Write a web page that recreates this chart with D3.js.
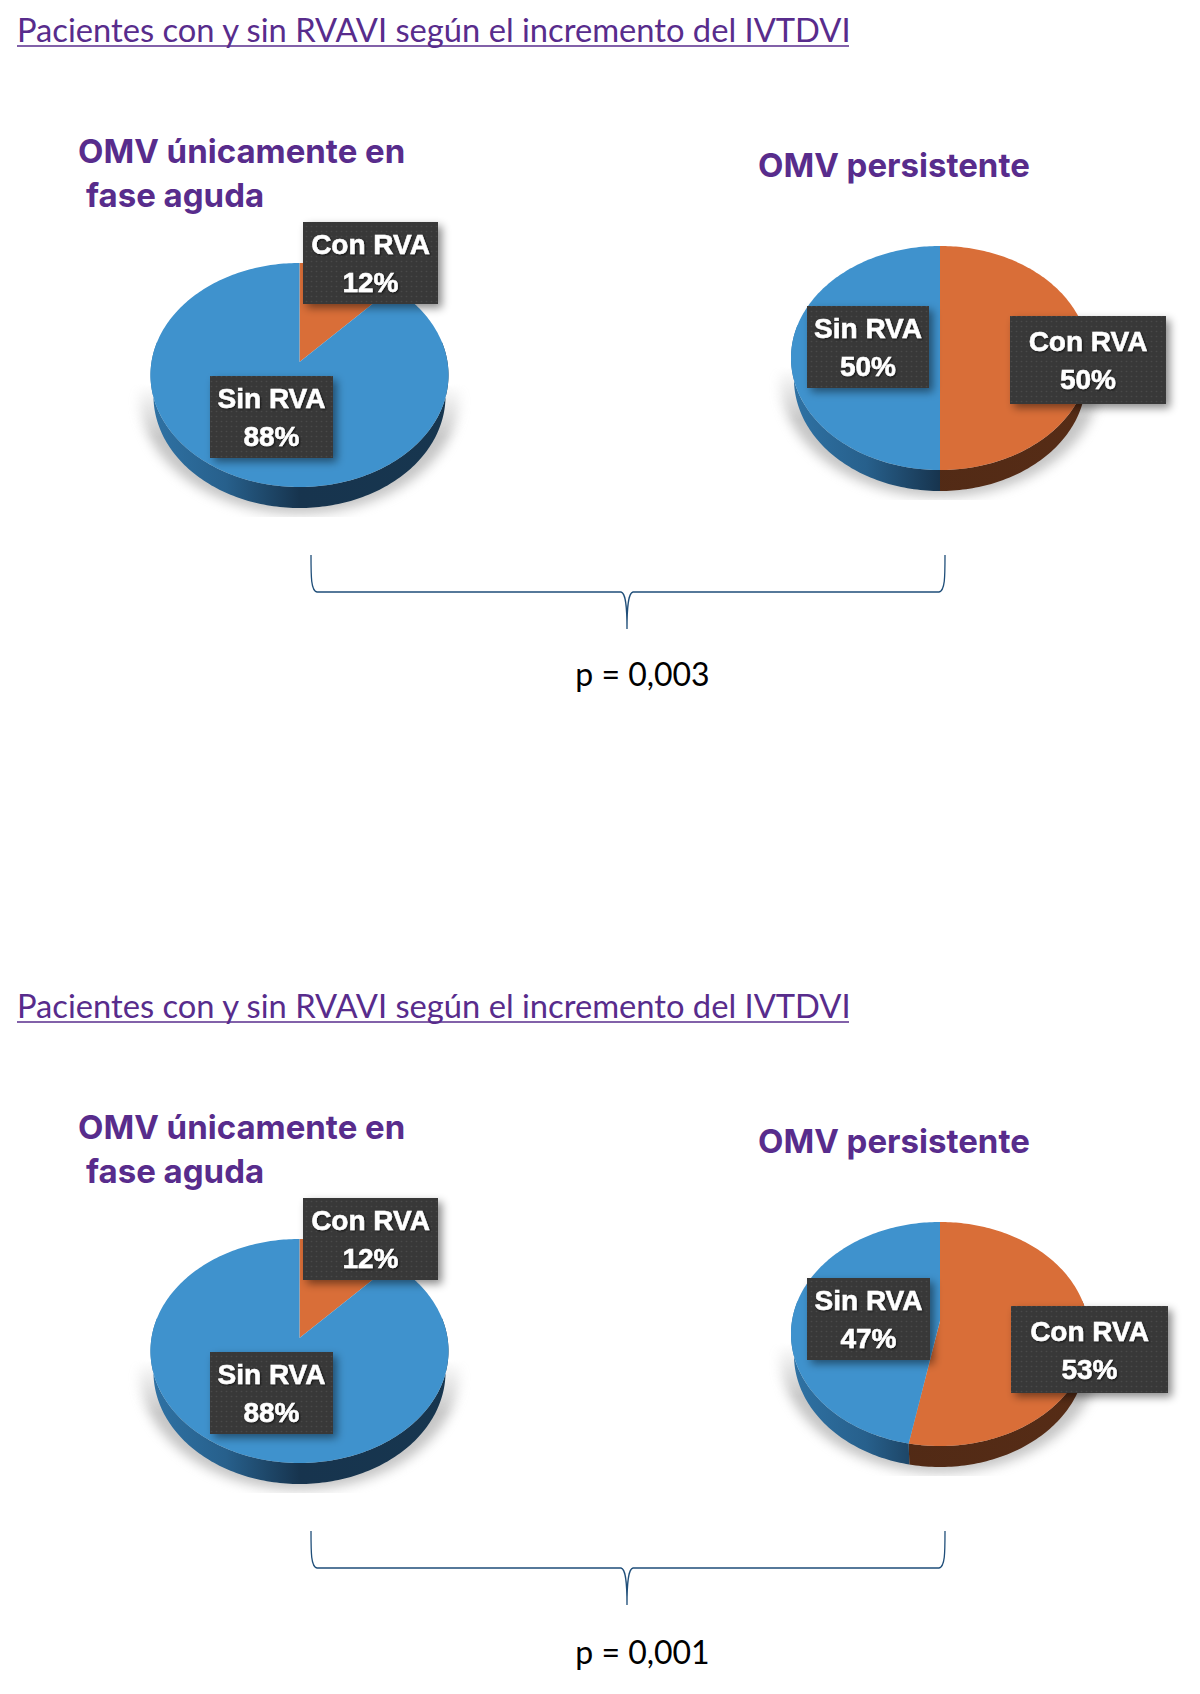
<!DOCTYPE html>
<html lang="es">
<head>
<meta charset="utf-8">
<script src="https://cdnjs.cloudflare.com/ajax/libs/d3/7.8.5/d3.min.js"></script>
<style>
  html, body { margin: 0; padding: 0; background: #fff; }
  svg { display: block; }
</style>
</head>
<body>
<svg id="chart" width="1200" height="1694"></svg>
<script>
// Values shown in the four pies (left and right pie of each block)
const sliceNames = ["Con RVA", "Sin RVA"];
const conRva = [12, 50, 12, 53];
const sinRva = [88, 50, 88, 47];
const chartTitle = "Pacientes con y sin RVAVI según el incremento del IVTDVI";
const leftHeading = ["OMV únicamente en", "fase aguda"];
const rightHeading = ["OMV persistente"];
const pValues = ["p = 0,003", "p = 0,001"];

// Layout
const blockOffset = 976;
const pieCentres = [[299.5, 362], [940, 345], [299.5, 362 + blockOffset], [940, 345 + blockOffset]];
const labelBoxes = [
  { con: [303, 222, 135, 82], sin: [210, 376, 123, 82] },
  { con: [1010, 316, 156, 88], sin: [807, 306, 122, 82] },
  { con: [303, 222 + blockOffset, 135, 82], sin: [210, 376 + blockOffset, 123, 82] },
  { con: [1011, 1306, 157, 87], sin: [807, 1278, 123, 82] }
];
const rx = 148, ryScale = 110.5, tilt = 0.116, depth = 21, lowerRimScale = 0.98;
const colors = { "Con RVA": "#d96e38", "Sin RVA": "#3f92cd" };
const purple = "#582c8c";

const svg = d3.select("#chart");
const defs = svg.append("defs");

// Soft blur for the shadow beneath each pie
defs.append("filter").attr("id", "pieShadow")
    .attr("x", "-20%").attr("y", "-20%").attr("width", "140%").attr("height", "140%")
  .append("feGaussianBlur").attr("stdDeviation", 6);

// Drop shadow of the label boxes
defs.append("filter").attr("id", "boxShadow")
    .attr("x", "-15%").attr("y", "-15%").attr("width", "135%").attr("height", "140%")
  .append("feDropShadow").attr("dx", 4).attr("dy", 4).attr("stdDeviation", 4)
    .attr("flood-color", "#000").attr("flood-opacity", 0.45);

// Dark halo that lifts the label text off the box
defs.append("filter").attr("id", "textShadow")
    .attr("x", "-10%").attr("y", "-20%").attr("width", "120%").attr("height", "140%")
  .append("feDropShadow").attr("dx", 1).attr("dy", 1).attr("stdDeviation", 1)
    .attr("flood-color", "#000").attr("flood-opacity", 0.7);

// Fine dot texture of the label boxes
const dots = defs.append("pattern").attr("id", "boxDots")
    .attr("width", 5).attr("height", 5).attr("patternUnits", "userSpaceOnUse");
dots.append("rect").attr("width", 5).attr("height", 5).attr("fill", "#383838");
dots.append("circle").attr("cx", 1.5).attr("cy", 1.5).attr("r", 0.8).attr("fill", "#4a4a4a");

// Vertical fade so the ground shadow only appears toward the lower half
const fade = defs.append("linearGradient").attr("id", "shadowFade")
    .attr("x1", 0).attr("x2", 0).attr("y1", 0).attr("y2", 1);
fade.append("stop").attr("offset", 0).attr("stop-color", "#000");
fade.append("stop").attr("offset", 0.4).attr("stop-color", "#fff");
fade.append("stop").attr("offset", 1).attr("stop-color", "#fff");

// Side wall shading runs across the width of each pie
function sideGradient(id, cx, stops) {
  const g = defs.append("linearGradient").attr("id", id)
      .attr("gradientUnits", "userSpaceOnUse")
      .attr("x1", cx - rx).attr("x2", cx + rx).attr("y1", 0).attr("y2", 0);
  stops.forEach(([o, c]) => g.append("stop").attr("offset", o).attr("stop-color", c));
}

const pieLayout = d3.pie().sort(null).value(d => d.value).startAngle(0).endAngle(2 * Math.PI);
const line = d3.line();

// Tilted disc: a unit circle seen in perspective, so the far half looks shorter
function project(c, angle, r) {
  const x = r * Math.sin(angle), y = r * Math.cos(angle), w = 1 + tilt * y;
  return [c[0] + rx * x / w, c[1] - ryScale * y / w];
}
function arcPoints(c, a0, a1) {
  const n = Math.max(2, Math.ceil((a1 - a0) / 0.02));
  return d3.range(n + 1).map(i => project(c, a0 + (a1 - a0) * i / n, 1));
}

function drawPie(i) {
  const c = pieCentres[i];
  const g = svg.append("g");
  const arcs = pieLayout(sliceNames.map((name, j) => ({ name, value: [conRva, sinRva][j][i] })));

  // Ground shadow, fading in from above and cut off flat at the bottom
  const maskId = "shadowMask" + i;
  const sx = c[0] - 175, sy = c[1] + 22, sw = 350, sh = 133;
  defs.append("mask").attr("id", maskId).attr("maskUnits", "userSpaceOnUse")
      .attr("x", sx).attr("y", sy).attr("width", sw).attr("height", sh)
    .append("rect").attr("x", sx).attr("y", sy).attr("width", sw).attr("height", sh)
      .attr("fill", "url(#shadowFade)");
  g.append("g").attr("mask", `url(#${maskId})`)
    .append("ellipse")
      .attr("cx", c[0]).attr("cy", c[1] + 34)
      .attr("rx", rx + 12).attr("ry", 118)
      .attr("fill", "#8c8c8c").attr("opacity", 0.5)
      .attr("filter", "url(#pieShadow)");

  sideGradient("sideBlue" + i, c[0], [[0, "#2f72a4"], [0.25, "#27608c"], [0.5, "#17344e"], [1, "#17364f"]]);
  sideGradient("sideOrange" + i, c[0], [[0, "#4f2915"], [1, "#562c16"]]);

  // Side wall: the front of the rim, with a slightly narrower lower edge
  const front0 = Math.PI * 0.44, front1 = Math.PI * 1.56;
  arcs.forEach(d => {
    const a0 = Math.max(d.startAngle, front0), a1 = Math.min(d.endAngle, front1);
    if (a1 <= a0) return;
    const rim = arcPoints(c, a0, a1);
    const lower = rim.map(p => [c[0] + (p[0] - c[0]) * lowerRimScale, p[1] + depth]).reverse();
    g.append("path")
      .attr("d", line(rim.concat(lower)) + "Z")
      .attr("fill", `url(#${d.data.name === "Con RVA" ? "sideOrange" : "sideBlue"}${i})`);
  });

  // Top face
  arcs.forEach(d => {
    const pts = [c].concat(arcPoints(c, d.startAngle, d.endAngle));
    g.append("path").attr("d", line(pts) + "Z").attr("fill", colors[d.data.name]);
  });

  // Value labels
  arcs.forEach(d => {
    const box = labelBoxes[i][d.data.name === "Con RVA" ? "con" : "sin"];
    const lg = g.append("g");
    lg.append("rect")
      .attr("x", box[0]).attr("y", box[1]).attr("width", box[2]).attr("height", box[3])
      .attr("fill", "url(#boxDots)").attr("filter", "url(#boxShadow)");
    const t = lg.append("text")
      .attr("text-anchor", "middle").attr("fill", "#fff")
      .attr("stroke", "#fff").attr("stroke-width", 0.5)
      .attr("font-family", "'Liberation Sans', sans-serif").attr("font-weight", 700)
      .attr("font-size", 28).attr("filter", "url(#textShadow)");
    const mx = box[0] + box[2] / 2, my = box[1] + box[3] / 2;
    t.append("tspan").attr("x", mx).attr("y", my - 9).text(d.data.name);
    t.append("tspan").attr("x", mx).attr("y", my + 29).text(d.data.value + "%");
  });
}

function drawBlock(dy, pText, pNudge) {
  const g = svg.append("g").attr("transform", `translate(0,${dy})`);
  g.append("text").attr("x", 17).attr("y", 41.5)
    .attr("font-family", "Lato, sans-serif").attr("font-size", 32.7)
    .attr("fill", purple)
    .text(chartTitle);
  g.append("line").attr("x1", 17).attr("x2", 849).attr("y1", 46).attr("y2", 46)
    .attr("stroke", purple).attr("stroke-width", 1.6);

  const heading = (x, y, s) => g.append("text").attr("x", x).attr("y", y)
    .attr("font-family", "Inter, sans-serif").attr("font-weight", 700)
    .attr("font-size", 33).attr("fill", purple).text(s);
  heading(78, 163, leftHeading[0]);
  heading(86, 207, leftHeading[1]);
  heading(758, 177, rightHeading[0]);

  // Brace joining the two pies
  const L = 311, R = 945, M = 627, T = 555, Y = 592, B = 629;
  const brace = `M${L},${T} C${L},${T + 22} ${L},${Y - 1} ${L + 6},${Y} L${M - 6},${Y} `
    + `C${M - 2},${Y + 1} ${M},${Y + 10} ${M},${B} C${M},${Y + 10} ${M + 2},${Y + 1} ${M + 6},${Y} `
    + `L${R - 6},${Y} C${R},${Y - 1} ${R},${T + 22} ${R},${T}`;
  g.append("path").attr("d", brace).attr("fill", "none")
    .attr("stroke", "#1f4e79").attr("stroke-width", 1.3);

  g.append("text").attr("x", 642.5).attr("y", 686 + pNudge).attr("text-anchor", "middle")
    .attr("font-family", "Lato, sans-serif").attr("font-size", 32).attr("fill", "#000")
    .text(pText);
}

drawBlock(0, pValues[0], 0);
drawBlock(blockOffset, pValues[1], 2);
d3.range(4).forEach(drawPie);
</script>
</body>
</html>
